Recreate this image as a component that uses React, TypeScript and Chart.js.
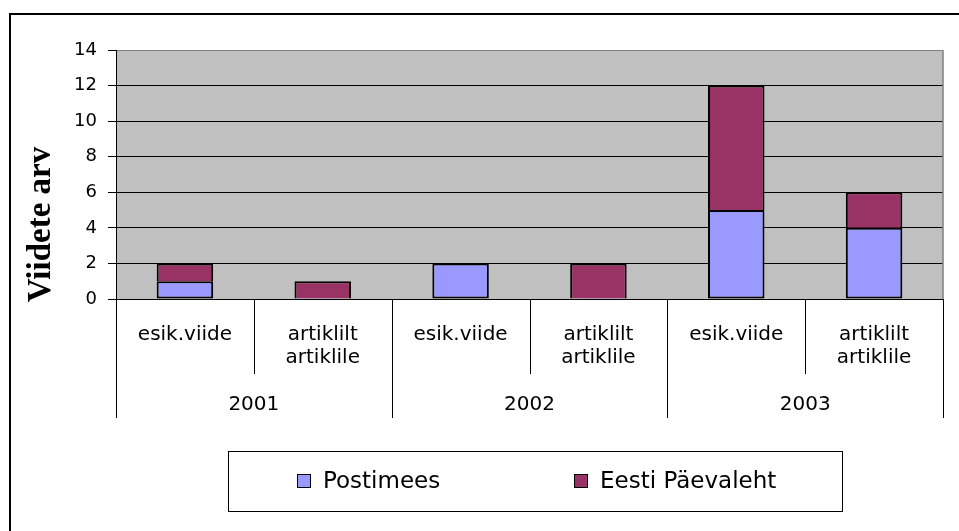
import React, { useEffect, useRef } from "react";
import { Chart, registerables } from "chart.js";

Chart.register(...registerables);

const years: string[] = ["2001", "2002", "2003"];
const subCategories: string[][] = [["esik.viide"], ["artiklilt", "artiklile"]];
const seriesNames: string[] = ["Postimees", "Eesti Päevaleht"];
const postimees: number[] = [1, 0, 2, 0, 5, 4];
const eestiPaevaleht: number[] = [1, 1, 0, 2, 7, 2];
const yAxisTitle = "Viidete arv";
const yMin = 0;
const yMax = 14;
const yStep = 2;

const colors = ["#9999FF", "#993366"];

const categoryLabels: string[][] = [];
years.forEach((y) => subCategories.forEach((s) => categoryLabels.push(s)));
const categoryYears: string[] = [];
years.forEach((y) => subCategories.forEach(() => categoryYears.push(y)));

const SANS = "'DejaVu Sans', 'Liberation Sans', Arial, sans-serif";

const excelPlugin = {
  id: "excelLook",
  beforeDraw(chart: any) {
    const { ctx, chartArea: a, width, height } = chart;
    ctx.save();
    ctx.fillStyle = "#ffffff";
    ctx.fillRect(0, 0, width, height);
    ctx.fillStyle = "#C0C0C0";
    ctx.fillRect(a.left, a.top, a.right - a.left, a.bottom - a.top);
    ctx.restore();
  },
  afterDraw(chart: any) {
    const { ctx, chartArea: a } = chart;
    const xs = chart.scales.x;
    const n = categoryLabels.length;
    const cw = (a.right - a.left) / n;
    ctx.save();

    // plot area right border (gray)
    ctx.strokeStyle = "#808080";
    ctx.lineWidth = 1.5;
    ctx.beginPath();
    ctx.moveTo(a.right, a.top);
    ctx.lineTo(a.right, a.bottom);
    ctx.stroke();

    // category separators
    ctx.strokeStyle = "#000";
    ctx.lineWidth = 1;
    const per = subCategories.length;
    for (let i = 0; i <= n; i++) {
      const x = Math.round(a.left + i * cw) + 0.5;
      const isYear = i % per === 0;
      ctx.beginPath();
      ctx.moveTo(x, a.bottom);
      ctx.lineTo(x, a.bottom + (isYear ? 119 : 75));
      ctx.stroke();
    }

    // sub category labels
    ctx.fillStyle = "#000";
    ctx.font = `20px ${SANS}`;
    ctx.textAlign = "center";
    ctx.textBaseline = "alphabetic";
    for (let i = 0; i < n; i++) {
      const cx = xs.getPixelForValue(i);
      categoryLabels[i].forEach((line, k) => {
        ctx.fillText(line, cx, a.bottom + 40.5 + k * 23.5);
      });
    }
    // year labels
    years.forEach((y, j) => {
      const x0 = xs.getPixelForValue(j * per);
      const x1 = xs.getPixelForValue(j * per + per - 1);
      ctx.fillText(y, (x0 + x1) / 2, a.bottom + 111);
    });

    // y axis title
    ctx.save();
    ctx.translate(50, (a.top + a.bottom) / 2 + 50);
    ctx.rotate(-Math.PI / 2);
    ctx.font = `bold 33px 'Liberation Serif', 'Times New Roman', serif`;
    ctx.textAlign = "center";
    ctx.fillText(yAxisTitle, 0, 0);
    ctx.restore();

    // legend
    const lb = { x: 228, y: a.bottom + 152, w: 614, h: 60 };
    ctx.strokeStyle = "#000";
    ctx.lineWidth = 1;
    ctx.strokeRect(lb.x + 0.5, lb.y + 0.5, lb.w, lb.h);
    const itemX = [297, 574];
    ctx.font = `23px ${SANS}`;
    ctx.textAlign = "left";
    chart.data.datasets.forEach((ds: any, i: number) => {
      const sx = itemX[i];
      const sy = lb.y + 23;
      ctx.fillStyle = ds.backgroundColor;
      ctx.fillRect(sx, sy, 14, 14);
      ctx.strokeStyle = "#000";
      ctx.strokeRect(sx + 0.5, sy + 0.5, 13, 13);
      ctx.fillStyle = "#000";
      ctx.fillText(ds.label, sx + 26, lb.y + 37);
    });

    // outer border
    ctx.strokeStyle = "#000";
    ctx.lineWidth = 2;
    ctx.strokeRect(10, 14, 1000, 600);
    ctx.restore();
  },
};

export default function App() {
  const ref = useRef<HTMLCanvasElement>(null);
  useEffect(() => {
    const chart = new Chart(ref.current as HTMLCanvasElement, {
      type: "bar",
      data: {
        labels: categoryLabels.map((l, i) => categoryYears[i] + " " + l.join(" ")),
        datasets: [
          {
            label: seriesNames[0],
            data: postimees,
            backgroundColor: colors[0],
            borderColor: "#000",
            borderWidth: 2,
            borderSkipped: false,
            categoryPercentage: 1,
            barPercentage: 0.41,
          },
          {
            label: seriesNames[1],
            data: eestiPaevaleht,
            backgroundColor: colors[1],
            borderColor: "#000",
            borderWidth: 2,
            borderSkipped: "start",
            categoryPercentage: 1,
            barPercentage: 0.41,
          },
        ],
      },
      options: {
        animation: false,
        responsive: false,
        devicePixelRatio: 1,
        layout: { padding: { left: 9, top: 50, right: 16, bottom: 232 } },
        plugins: {
          legend: { display: false },
          tooltip: { enabled: false },
        },
        scales: {
          x: {
            stacked: true,
            display: false,
          },
          y: {
            stacked: true,
            min: yMin,
            max: yMax,
            ticks: {
              stepSize: yStep,
              color: "#000",
              padding: 11,
              font: { family: SANS, size: 18 },
            },
            grid: {
              color: (c: any) => (c.tick && c.tick.value === yMax ? "#808080" : "#000"),
              lineWidth: 1,
              tickLength: 8,
              tickColor: "#000",
            },
            border: { color: "#000", width: 1 },
            afterFit(scale: any) {
              scale.width = 107;
              scale.paddingTop = 0;
              scale.paddingBottom = 0;
            },
          },
        },
      },
      plugins: [excelPlugin],
    });
    return () => chart.destroy();
  }, []);
  return (
    <div style={{ position: "absolute", left: 0, top: 0, width: 959, height: 531, background: "#fff" }}>
      <canvas ref={ref} width={959} height={531} style={{ display: "block", width: 959, height: 531 }} />
    </div>
  );
}
